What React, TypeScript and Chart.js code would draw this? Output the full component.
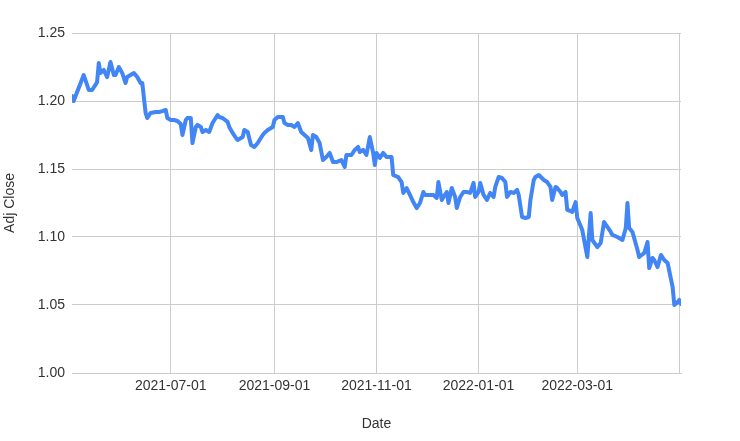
import React, { useEffect, useRef } from 'react';
import { Chart, registerables } from 'chart.js';

Chart.register(...registerables);

const dates: string[] = [
  '2021-05-03','2021-05-04','2021-05-07','2021-05-10','2021-05-11','2021-05-13','2021-05-15','2021-05-17','2021-05-18','2021-05-19',
  '2021-05-20','2021-05-22','2021-05-24','2021-05-26','2021-05-28','2021-05-29','2021-05-31','2021-06-02','2021-06-04','2021-06-05',
  '2021-06-07','2021-06-09','2021-06-11','2021-06-13','2021-06-14','2021-06-16','2021-06-17','2021-06-19','2021-06-22','2021-06-24',
  '2021-06-26','2021-06-28','2021-06-29','2021-07-01','2021-07-03','2021-07-05','2021-07-07','2021-07-08','2021-07-10','2021-07-11',
  '2021-07-13','2021-07-14','2021-07-16','2021-07-17','2021-07-19','2021-07-20','2021-07-22','2021-07-24','2021-07-26','2021-07-29',
  '2021-07-30','2021-08-01','2021-08-04','2021-08-05','2021-08-07','2021-08-09','2021-08-10','2021-08-13','2021-08-14','2021-08-16',
  '2021-08-18','2021-08-20','2021-08-22','2021-08-25','2021-08-26','2021-08-28','2021-08-31','2021-09-01','2021-09-03','2021-09-06',
  '2021-09-07','2021-09-09','2021-09-11','2021-09-13','2021-09-15','2021-09-17','2021-09-19','2021-09-21','2021-09-23','2021-09-24',
  '2021-09-26','2021-09-28','2021-09-30','2021-10-02','2021-10-04','2021-10-06','2021-10-08','2021-10-11','2021-10-13','2021-10-14',
  '2021-10-17','2021-10-19','2021-10-21','2021-10-22','2021-10-24','2021-10-26','2021-10-28','2021-10-30','2021-10-31','2021-11-01',
  '2021-11-03','2021-11-05','2021-11-07','2021-11-10','2021-11-11','2021-11-14','2021-11-16','2021-11-17','2021-11-19','2021-11-21',
  '2021-11-23','2021-11-25','2021-11-27','2021-11-29','2021-11-30','2021-12-02','2021-12-04','2021-12-05','2021-12-07','2021-12-08',
  '2021-12-10','2021-12-11','2021-12-13','2021-12-14','2021-12-16','2021-12-18','2021-12-19','2021-12-21','2021-12-23','2021-12-25',
  '2021-12-27','2021-12-29','2021-12-30','2022-01-01','2022-01-02','2022-01-04','2022-01-06','2022-01-08','2022-01-10','2022-01-11',
  '2022-01-13','2022-01-15','2022-01-17','2022-01-18','2022-01-20','2022-01-22','2022-01-24','2022-01-25','2022-01-27','2022-01-29',
  '2022-01-31','2022-02-01','2022-02-03','2022-02-04','2022-02-06','2022-02-09','2022-02-11','2022-02-13','2022-02-14','2022-02-16',
  '2022-02-17','2022-02-19','2022-02-20','2022-02-22','2022-02-23','2022-02-25','2022-02-26','2022-02-28','2022-03-01','2022-03-04',
  '2022-03-06','2022-03-07','2022-03-09','2022-03-10','2022-03-13','2022-03-15','2022-03-17','2022-03-19','2022-03-21','2022-03-22',
  '2022-03-25','2022-03-27','2022-03-28','2022-03-30','2022-03-31','2022-04-01','2022-04-03','2022-04-06','2022-04-07','2022-04-10',
  '2022-04-12','2022-04-13','2022-04-15','2022-04-16','2022-04-18','2022-04-20','2022-04-22','2022-04-24','2022-04-27','2022-04-28',
  '2022-04-30','2022-05-01','2022-05-02'
];

const adjClose: number[] = [
  1.2037,1.2000,1.2096,1.2191,1.2155,1.2081,1.2081,1.2118,1.2140,1.2279,
  1.2206,1.2228,1.2176,1.2287,1.2191,1.2191,1.2250,1.2206,1.2132,1.2176,
  1.2191,1.2206,1.2176,1.2132,1.2132,1.1912,1.1875,1.1912,1.1919,1.1919,
  1.1926,1.1934,1.1875,1.1860,1.1860,1.1853,1.1831,1.1750,1.1860,1.1875,
  1.1875,1.1691,1.1809,1.1824,1.1809,1.1772,1.1787,1.1772,1.1838,1.1897,
  1.1882,1.1875,1.1846,1.1809,1.1765,1.1728,1.1713,1.1735,1.1787,1.1772,
  1.1676,1.1662,1.1691,1.1750,1.1765,1.1787,1.1809,1.1860,1.1882,1.1882,
  1.1838,1.1824,1.1824,1.1809,1.1838,1.1772,1.1750,1.1728,1.1640,1.1750,
  1.1735,1.1691,1.1566,1.1588,1.1618,1.1551,1.1551,1.1566,1.1515,1.1603,
  1.1603,1.1640,1.1662,1.1625,1.1640,1.1603,1.1735,1.1618,1.1529,1.1618,
  1.1581,1.1618,1.1588,1.1588,1.1456,1.1441,1.1404,1.1324,1.1360,1.1309,
  1.1257,1.1213,1.1250,1.1331,1.1309,1.1309,1.1309,1.1309,1.1287,1.1404,
  1.1272,1.1294,1.1331,1.1250,1.1360,1.1294,1.1213,1.1294,1.1331,1.1331,
  1.1324,1.1397,1.1294,1.1331,1.1397,1.1309,1.1272,1.1324,1.1294,1.1368,
  1.1441,1.1434,1.1404,1.1294,1.1331,1.1324,1.1346,1.1309,1.1147,1.1140,
  1.1147,1.1272,1.1419,1.1441,1.1456,1.1419,1.1404,1.1368,1.1272,1.1368,
  1.1360,1.1331,1.1309,1.1331,1.1199,1.1191,1.1184,1.1257,1.1140,1.1051,
  1.0919,1.0853,1.1176,1.0978,1.0926,1.0956,1.1110,1.1074,1.1037,1.1015,
  1.1000,1.0985,1.0978,1.1066,1.1250,1.1066,1.1037,1.0904,1.0853,1.0882,
  1.0963,1.0772,1.0846,1.0831,1.0779,1.0868,1.0831,1.0809,1.0632,1.0500,
  1.0522,1.0537,1.0507
];

const xTickDates: string[] = ['2021-07-01', '2021-09-01', '2021-11-01', '2022-01-01', '2022-03-01', '2022-05-01'];
const xTickLabels: string[] = ['2021-07-01', '2021-09-01', '2021-11-01', '2022-01-01', '2022-03-01', ''];
const yTicks: number[] = [1.0, 1.05, 1.1, 1.15, 1.2, 1.25];

const toDay = (s: string): number => {
  const [y, m, d] = s.split('-').map(Number);
  return Date.UTC(y, m - 1, d) / 86400000;
};

const FONT = '"Liberation Sans", Arial, sans-serif';

export default function App() {
  const ref = useRef<HTMLCanvasElement | null>(null);

  useEffect(() => {
    if (!ref.current) return;
    const points = dates.map((d, i) => ({ x: toDay(d), y: adjClose[i] }));
    const tickDays = xTickDates.map(toDay);
    const chart = new Chart(ref.current, {
      type: 'line',
      data: {
        datasets: [
          {
            label: 'Adj Close',
            data: points,
            borderColor: '#4285f4',
            backgroundColor: '#4285f4',
            borderWidth: 4,
            pointRadius: 0,
            tension: 0,
            borderJoinStyle: 'round',
            borderCapStyle: 'round',
          },
        ],
      },
      options: {
        animation: false,
        responsive: true,
        maintainAspectRatio: false,
        layout: { padding: { top: 33, right: 59, bottom: 0, left: 0 } },
        plugins: { legend: { display: false }, tooltip: { enabled: false } },
        scales: {
          x: {
            type: 'linear',
            min: toDay(dates[0]),
            max: toDay(dates[dates.length - 1]),
            afterBuildTicks: (scale: any) => {
              scale.ticks = tickDays.map((v) => ({ value: v }));
            },
            afterFit: (scale: any) => {
              scale.height = 68;
            },
            ticks: {
              autoSkip: false,
              maxRotation: 0,
              padding: 5,
              color: '#333',
              font: { family: FONT, size: 14 },
              callback: (v: any) => {
                const i = tickDays.indexOf(Number(v));
                return i >= 0 ? xTickLabels[i] : '';
              },
            },
            grid: { color: '#cccccc', drawTicks: false, lineWidth: 1 },
            border: { display: true, color: '#cccccc' },
            title: {
              display: true,
              text: 'Date',
              color: '#333',
              font: { family: FONT, size: 14 },
              padding: { top: 0, bottom: 8 },
            },
          },
          y: {
            type: 'linear',
            min: 1.0,
            max: 1.25,
            afterBuildTicks: (scale: any) => {
              scale.ticks = yTicks.map((v) => ({ value: v }));
            },
            afterFit: (scale: any) => {
              scale.width = 72;
            },
            ticks: {
              padding: 7,
              color: '#333',
              font: { family: FONT, size: 14 },
              callback: (v: any) => Number(v).toFixed(2),
            },
            grid: { color: '#cccccc', drawTicks: false, lineWidth: 1 },
            border: { display: false },
            title: {
              display: true,
              text: 'Adj Close',
              color: '#333',
              font: { family: FONT, size: 14 },
              padding: { top: 2, bottom: 0 },
            },
          },
        },
      },
    });
    return () => chart.destroy();
  }, []);

  return (
    <div style={{ position: 'absolute', left: 0, top: 0, width: 740, height: 441, background: '#fff' }}>
      <canvas ref={ref} />
    </div>
  );
}
